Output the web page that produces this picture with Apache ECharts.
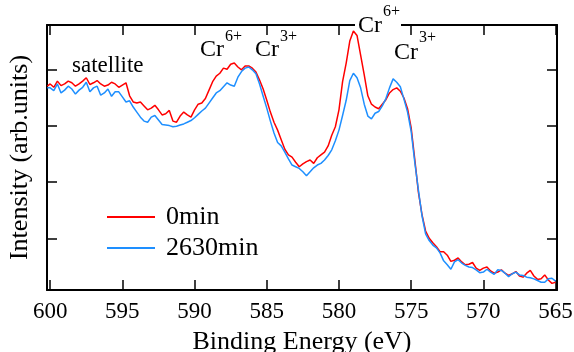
<!DOCTYPE html>
<html>
<head>
<meta charset="utf-8">
<script src="https://cdn.jsdelivr.net/npm/echarts@6/dist/echarts.min.js"></script>
<style>
  html, body { margin: 0; padding: 0; background: #fff; }
  #xps { width: 574px; height: 352px; }
</style>
</head>
<body>
<div id="xps"></div>
<script>
// binding energy (eV), shared by both spectra
var energy = [600.2,
  600, 599.75, 599.5, 599.25,  599, 598.75, 598.5, 598.25,
  598, 597.75, 597.5, 597.25,  597, 596.75, 596.5, 596.25,
  596, 595.75, 595.5, 595.25,  595, 594.75, 594.5, 594.25,
  594, 593.75, 593.5, 593.25,  593, 592.75, 592.5, 592.25,
  592, 591.75, 591.5, 591.25,  591, 590.75, 590.5, 590.25,
  590, 589.75, 589.5, 589.25,  589, 588.75, 588.5, 588.25,
  588, 587.75, 587.5, 587.25,  587, 586.75, 586.5, 586.25,
  586, 585.75, 585.5, 585.25,  585, 584.75, 584.5, 584.25,
  584, 583.75, 583.5, 583.25,  583, 582.75, 582.5, 582.25,
  582, 581.75, 581.5, 581.25,  581, 580.75, 580.5, 580.25,
  580, 579.75, 579.5, 579.25,  579, 578.75, 578.5, 578.25,
  578, 577.75, 577.5, 577.25,  577, 576.75, 576.5, 576.25,
  576, 575.75, 575.5, 575.25,  575, 574.75, 574.5, 574.25,
  574, 573.75, 573.5, 573.25,  573, 572.75, 572.5, 572.25,
  572, 571.75, 571.5, 571.25,  571, 570.75, 570.5, 570.25,
  570, 569.75, 569.5, 569.25,  569, 568.75, 568.5, 568.25,
  568, 567.75, 567.5, 567.25,  567, 566.75, 566.5, 566.25,
  566, 565.75, 565.5, 565.25,
  565];

// intensity, 0min
var int0min = [4700,
  4740, 4680, 4790, 4710,  4740, 4790, 4760, 4700,
  4740, 4790, 4850, 4730,  4760, 4800, 4740, 4700,
  4720, 4770, 4740, 4680,  4720, 4760, 4530, 4420,
  4400, 4420, 4350, 4280,  4310, 4360, 4280, 4190,
  4210, 4270, 4080, 4060,  4170, 4240, 4190, 4150,
  4280, 4380, 4400, 4480,  4630, 4780, 4880, 4930,
  5020, 5000, 5090, 5110,  5040, 4990, 5060, 5060,
  5020, 4950, 4810, 4650,  4450, 4240, 4060, 3920,
  3750, 3580, 3480, 3440,  3350, 3270, 3320, 3360,
  3390, 3330, 3430, 3480,  3530, 3640, 3830, 3980,
  4280, 4780, 5110, 5500,  5680, 5600, 5250, 4900,
  4530, 4380, 4330, 4300,  4380, 4460, 4580, 4640,
  4670, 4610, 4490, 4300,  3960, 3400, 2820, 2420,
  2130, 2000, 1920, 1850,  1760, 1760, 1700, 1590,
  1610, 1650, 1580, 1530,  1540, 1570, 1470, 1430,
  1470, 1490, 1420, 1380,  1400, 1440, 1380, 1340,
  1370, 1410, 1330, 1310,  1380, 1430, 1330, 1270,
  1280, 1350, 1260, 1200,
  1220];

// intensity, 2630min
var int2630min = [4670,
  4670, 4620, 4740, 4580,  4630, 4700, 4650, 4560,
  4630, 4680, 4770, 4600,  4670, 4700, 4540, 4580,
  4650, 4520, 4600, 4600,  4510, 4420, 4440, 4330,
  4240, 4150, 4080, 4060,  4150, 4180, 4100, 4020,
  4010, 4000, 3980, 3990,  4010, 4030, 4060, 4090,
  4140, 4200, 4260, 4310,  4400, 4490, 4580, 4620,
  4690, 4760, 4720, 4700,  4860, 4960, 5020, 5040,
  4990, 4920, 4740, 4520,  4310, 4080, 3870, 3700,
  3640, 3530, 3410, 3300,  3270, 3240, 3180, 3110,
  3180, 3250, 3300, 3330,  3390, 3470, 3570, 3730,
  3920, 4180, 4450, 4800,  4930, 4850, 4670, 4380,
  4170, 4120, 4220, 4250,  4350, 4480, 4670, 4830,
  4770, 4690, 4470, 4240,  3900, 3350, 2860, 2400,
  2080, 1960, 1880, 1830,  1740, 1600, 1530, 1450,
  1580, 1620, 1560, 1520,  1490, 1480, 1440, 1390,
  1400, 1450, 1400, 1360,  1440, 1430, 1380, 1320,
  1370, 1400, 1350, 1340,  1310, 1300, 1280, 1250,
  1220, 1220, 1280, 1290,
  1240];

var xTicks = [600, 595, 590, 585, 580, 575, 570, 565];
var yTicks = [2000, 3000, 4000, 5000];

function pairs(ys) {
  return energy.map(function (e, i) { return [e, ys[i]]; });
}

var serif = '"Liberation Serif", "Times New Roman", serif';
var lineCol = '#000';

function xAx(pos, show) {
  return {
    type: 'value', position: pos, inverse: true,
    min: 564.9, max: 600.22,
    axisLine: { show: true, onZero: false, lineStyle: { color: lineCol, width: 2 } },
    axisTick: { show: true, inside: true, length: 10, customValues: xTicks, lineStyle: { color: lineCol, width: 1.5 } },
    axisLabel: { show: show, customValues: xTicks, margin: 10, color: '#000', fontFamily: serif, fontSize: 23 },
    splitLine: { show: false }
  };
}
function yAx(pos) {
  return {
    type: 'value', position: pos,
    min: 1082, max: 5786,
    axisLine: { show: true, onZero: false, lineStyle: { color: lineCol, width: 2 } },
    axisTick: { show: true, inside: true, length: 10, customValues: yTicks, lineStyle: { color: lineCol, width: 1.5 } },
    axisLabel: { show: false },
    splitLine: { show: false }
  };
}

var xa = xAx('bottom', true);
xa.name = 'Binding Energy (eV)';
xa.nameLocation = 'middle';
xa.nameGap = 39;
xa.nameTextStyle = { color: '#000', fontFamily: serif, fontSize: 26 };
var xb = xAx('top', false);

var ya = yAx('left');
ya.name = 'Intensity (arb.units)';
ya.nameLocation = 'middle';
ya.nameGap = 14;
ya.nameTextStyle = { color: '#000', fontFamily: serif, fontSize: 26 };
var yb = yAx('right');

function lbl(txt, x, y, size) {
  return { type: 'text', z: 100, style: { text: txt, x: x, y: y, fill: '#000',
    font: size + 'px ' + serif, align: 'left', verticalAlign: 'middle' } };
}

var option = {
  animation: false,
  backgroundColor: '#fff',
  grid: { left: 47, right: 17, top: 25, bottom: 62, containLabel: false, outerBoundsMode: 'none' },
  xAxis: [xa, xb],
  yAxis: [ya, yb],
  legend: {
    orient: 'vertical', left: 102, top: 199,
    icon: 'rect', itemWidth: 48, itemHeight: 2, itemGap: 5,
    textStyle: { color: '#000', fontFamily: serif, fontSize: 26, lineHeight: 26, padding: [0, 0, 0, 6] },
    data: ['0min', '2630min']
  },
  series: [
    {
      name: '0min', type: 'line', data: pairs(int0min),
      symbol: 'none', color: '#ff0000',
      lineStyle: { color: '#ff0000', width: 1.5 }, z: 3
    },
    {
      name: '2630min', type: 'line', data: pairs(int2630min),
      symbol: 'none', color: '#1e8fff',
      lineStyle: { color: '#1e8fff', width: 1.5 }, z: 4
    }
  ],
  graphic: [
    { type: 'rect', z: 99, shape: { x: 355, y: 22, width: 46, height: 6 }, style: { fill: '#fff' } },
    lbl('satellite', 72, 65.5, 23),
    lbl('Cr', 200, 49.6, 24), lbl('6+', 225, 36.6, 16),
    lbl('Cr', 255, 49.6, 24), lbl('3+', 280, 36.9, 16),
    lbl('Cr', 358, 25.6, 24), lbl('6+', 383, 11.6, 16),
    lbl('Cr', 394, 52.3, 24), lbl('3+', 419, 37.9, 16)
  ]
};

var chart = echarts.init(document.getElementById('xps'));
chart.setOption(option);
</script>
</body>
</html>
